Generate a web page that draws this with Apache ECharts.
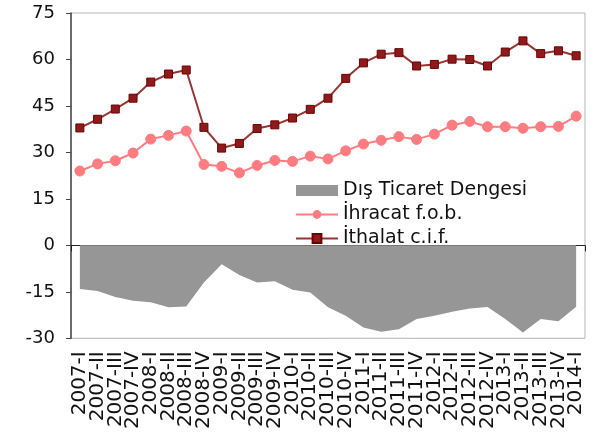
<!DOCTYPE html>
<html>
<head>
<meta charset="utf-8">
<script src="https://cdn.jsdelivr.net/npm/echarts@6/dist/echarts.min.js"></script>
<style>html,body{margin:0;padding:0;background:#fff;}#c{width:594px;height:432px;}</style>
</head>
<body>
<div id="c"></div>
<script>
const categories = ["2007-I","2007-II","2007-III","2007-IV","2008-I","2008-II","2008-III","2008-IV","2009-I","2009-II","2009-III","2009-IV","2010-I","2010-II","2010-III","2010-IV","2011-I","2011-II","2011-III","2011-IV","2012-I","2012-II","2012-III","2012-IV","2013-I","2013-II","2013-III","2013-IV","2014-I"];
const balance = [-14.1,-14.7,-16.7,-17.9,-18.4,-20.0,-19.7,-12.0,-6.1,-9.6,-12.0,-11.6,-14.3,-15.2,-20.0,-22.7,-26.5,-27.9,-27.1,-23.8,-22.7,-21.4,-20.4,-19.9,-23.8,-28.1,-23.8,-24.5,-19.8];
const exportsFob = [24.0,26.3,27.3,29.8,34.3,35.5,36.9,26.1,25.5,23.4,25.8,27.4,27.1,28.8,27.9,30.5,32.7,33.9,35.1,34.2,35.9,38.8,40.0,38.3,38.3,37.8,38.3,38.4,41.7];
const importsCif = [37.9,40.7,44.0,47.5,52.7,55.3,56.6,38.1,31.4,32.9,37.7,38.9,41.1,43.9,47.5,53.9,58.9,61.7,62.2,57.9,58.4,60.1,60.0,57.9,62.4,66.0,61.9,62.8,61.2];
const yTicks = {min:-30, max:75, interval:15};
const seriesNames = ["Dış Ticaret Dengesi","İhracat f.o.b.","İthalat c.i.f."];

const chart = echarts.init(document.getElementById('c'));
const FONT = 'DejaVu Sans';
chart.setOption({
  animation:false,
  backgroundColor:'#fff',
  textStyle:{fontFamily:FONT},
  grid:{left:71,right:9,top:13,bottom:92,show:true,borderColor:'#b4b4b4',borderWidth:1,backgroundColor:'transparent'},
  legend:{
    orient:'vertical',left:290,top:176,itemWidth:42,itemHeight:11,itemGap:5,
    textStyle:{fontFamily:FONT,fontSize:19,color:'#111',lineHeight:19},
    data:[{name:seriesNames[0],icon:'rect'},{name:seriesNames[1]},{name:seriesNames[2]}]
  },
  xAxis:[
    {type:'category',data:categories,position:'bottom',boundaryGap:true,
     axisLine:{show:false,onZero:false},axisTick:{show:false},splitLine:{show:false},
     axisLabel:{interval:0,rotate:90,margin:13,fontSize:20,color:'#111',fontFamily:FONT}},
    {type:'category',data:categories,position:'top',boundaryGap:true,
     axisLine:{show:true,onZero:true,lineStyle:{color:'#222',width:1}},
     axisTick:{show:true,inside:true,interval:1,length:6,lineStyle:{color:'#222'}},
     axisLabel:{show:false},splitLine:{show:false}}
  ],
  yAxis:{type:'value',min:yTicks.min,max:yTicks.max,interval:yTicks.interval,
    axisLine:{show:true,lineStyle:{color:'#444',width:1.5}},
    axisTick:{show:true,length:5,lineStyle:{color:'#444'}},
    splitLine:{show:false},
    axisLabel:{fontSize:18,color:'#111',margin:16,fontFamily:FONT}},
  series:[
    {name:seriesNames[0],type:'line',xAxisIndex:0,data:balance,symbol:'none',
     lineStyle:{width:0,color:'#969696'},itemStyle:{color:'#969696'},
     areaStyle:{color:'#969696',opacity:1}},
    {name:seriesNames[1],type:'line',xAxisIndex:0,data:exportsFob,symbol:'circle',symbolSize:10,
     lineStyle:{width:2,color:'#ff7c80'},itemStyle:{color:'#ff7c80',borderColor:'#ff7c80'},z:3},
    {name:seriesNames[2],type:'line',xAxisIndex:0,data:importsCif,symbol:'rect',symbolSize:8,
     lineStyle:{width:2,color:'#943634'},itemStyle:{color:'#8c1c1c',borderColor:'#700000',borderWidth:1},z:4}
  ]
});
</script>
</body>
</html>
